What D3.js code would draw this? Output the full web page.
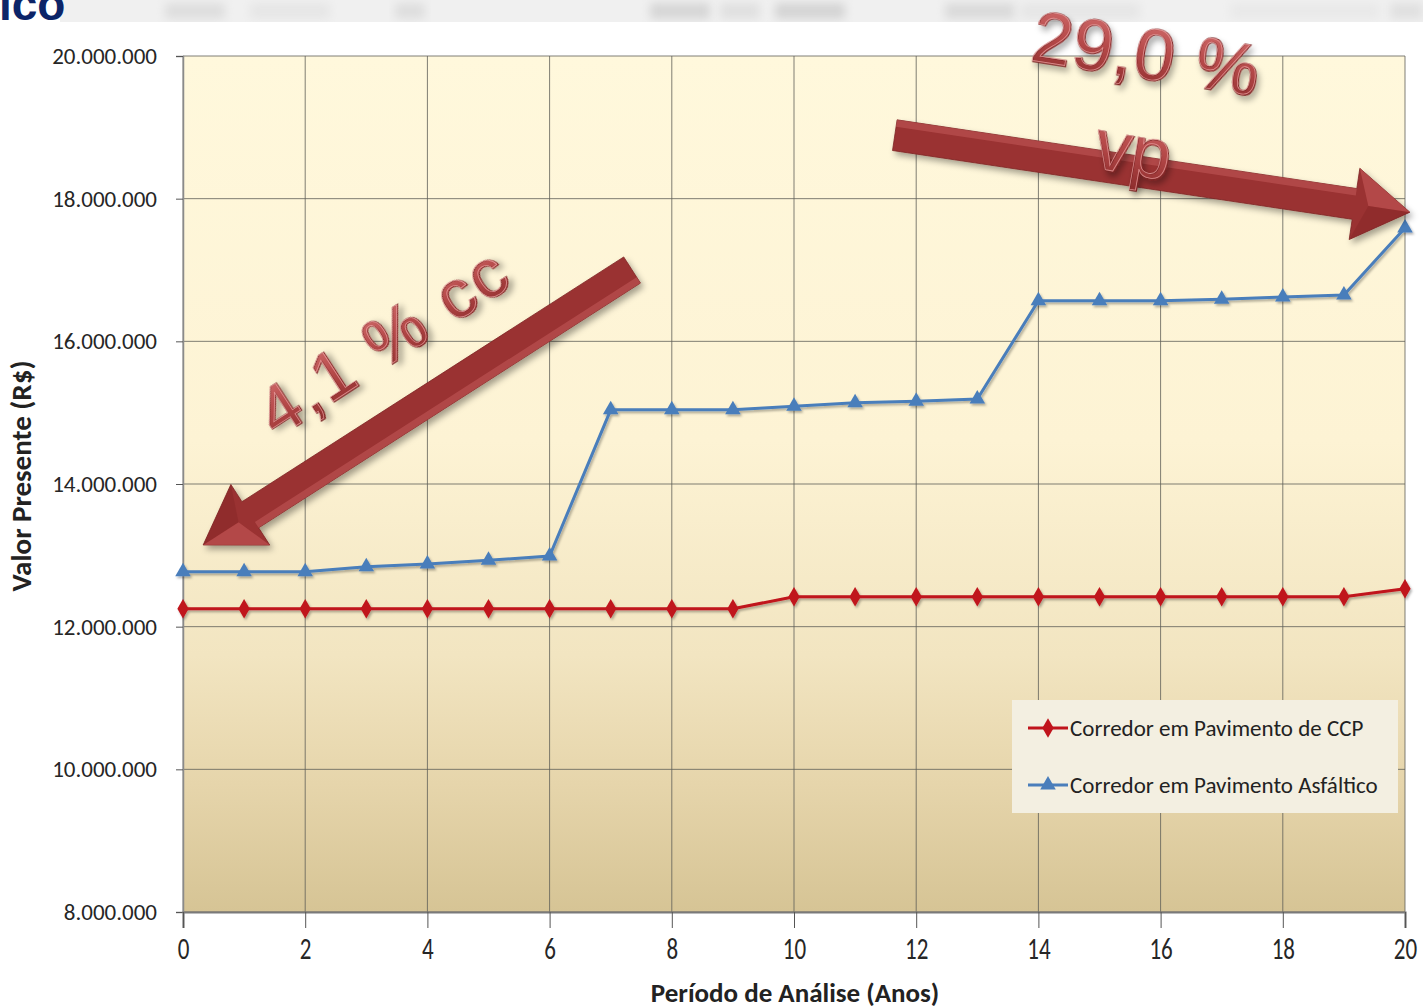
<!DOCTYPE html>
<html>
<head>
<meta charset="utf-8">
<script src="https://cdn.jsdelivr.net/npm/d3@7"></script>
<style>
  html, body { margin: 0; padding: 0; background: #ffffff; }
  svg { display: block; }
</style>
</head>
<body>
<svg id="chart" width="1423" height="1008"></svg>
<script>
// Analysis period (years)
const years = [0, 1, 2, 3, 4, 5, 6, 7, 8, 9, 10, 11, 12, 13, 14, 15, 16, 17, 18, 19, 20];

// Present value (R$) – concrete (CCP) corridor
const ccpValues = [
  12250000, 12250000, 12250000, 12250000, 12250000, 12250000, 12250000,
  12250000, 12250000, 12250000, 12420000, 12420000, 12420000, 12420000,
  12420000, 12420000, 12420000, 12420000, 12420000, 12420000, 12530000
];

// Present value (R$) – asphalt corridor
const asphaltValues = [
  12770000, 12770000, 12770000, 12840000, 12880000, 12930000, 12990000,
  15040000, 15040000, 15040000, 15090000, 15140000, 15160000, 15190000,
  16570000, 16570000, 16570000, 16590000, 16620000, 16650000, 17590000
];

const seriesNames = ["Corredor em Pavimento de CCP", "Corredor em Pavimento Asfáltico"];
const xTicks = [0, 2, 4, 6, 8, 10, 12, 14, 16, 18, 20];
const yTicks = [8000000, 10000000, 12000000, 14000000, 16000000, 18000000, 20000000];
const xTitle = "Período de Análise (Anos)";
const yTitle = "Valor Presente (R$)";

// Callout arrows, anchored in data units: [x, value] tail -> tip
const calloutArrows = [
  { from: [7.35, 17000000], to: [0.33, 13145000] },
  { from: [11.65, 18890000], to: [20.08, 17810000] }
];
const calloutTexts = ["4,1 % cc", "29,0 %", "vp"];

const svg = d3.select("#chart");
const W = 1423, H = 1008;
const plot = { left: 183, right: 1405, top: 56, bottom: 912 };

const x = d3.scaleLinear().domain([0, 20]).range([plot.left, plot.right]);
const y = d3.scaleLinear().domain([8000000, 20000000]).range([plot.bottom, plot.top]);

const ptBR = d3.formatLocale({ decimal: ",", thousands: ".", grouping: [3], currency: ["R$", ""] });
const fmt = ptBR.format(",d");

const uiFont = "Carlito, Calibri, Lato, 'Open Sans', sans-serif";

const defs = svg.append("defs");

// plot background: pale cream fading to tan at the bottom
const bg = defs.append("linearGradient").attr("id", "plotBg")
  .attr("x1", 0).attr("y1", 0).attr("x2", 0).attr("y2", 1);
[[0, "#fff8dc"], [0.45, "#fdf3d4"], [0.7, "#f2e5c1"], [0.85, "#e6d5ab"], [1, "#d6c495"]]
  .forEach(([o, c]) => bg.append("stop").attr("offset", o).attr("stop-color", c));

const wordGrad = defs.append("linearGradient").attr("id", "wordFill")
  .attr("x1", 0).attr("y1", 0).attr("x2", 0).attr("y2", 1);
[[0, "#d47070"], [0.5, "#b44848"], [1, "#8d2c2c"]]
  .forEach(([o, c]) => wordGrad.append("stop").attr("offset", o).attr("stop-color", c));

const shadow = defs.append("filter").attr("id", "shadow")
  .attr("x", "-20%").attr("y", "-20%").attr("width", "140%").attr("height", "140%");
shadow.append("feDropShadow").attr("dx", 3).attr("dy", 4).attr("stdDeviation", 3)
  .attr("flood-color", "#000").attr("flood-opacity", 0.35);

const lineShadow = defs.append("filter").attr("id", "lineShadow")
  .attr("x", "-5%").attr("y", "-20%").attr("width", "110%").attr("height", "140%");
lineShadow.append("feDropShadow").attr("dx", 1.5).attr("dy", 2).attr("stdDeviation", 1.2)
  .attr("flood-color", "#000").attr("flood-opacity", 0.3);

const haze = defs.append("filter").attr("id", "haze")
  .attr("x", "-20%").attr("y", "-80%").attr("width", "140%").attr("height", "260%");
haze.append("feGaussianBlur").attr("stdDeviation", 5);

// ---- header band (slide banner, out of focus) ----
const band = svg.append("g");
band.append("rect").attr("x", 60).attr("y", 0).attr("width", W - 60).attr("height", 22).attr("fill", "#f0f0f0");
const bandBlobs = [
  [165, 60, "#dedede"], [250, 80, "#e6e6e6"], [395, 30, "#dedede"], [650, 60, "#d6d6d6"],
  [720, 40, "#e0e0e0"], [775, 70, "#d4d4d4"], [945, 70, "#dadada"],
  [1020, 120, "#e6e6e6"], [1230, 150, "#e9e9e9"], [1390, 33, "#e0e0e0"]
];
band.selectAll("rect.blob").data(bandBlobs).join("rect").attr("class", "blob")
  .attr("x", d => d[0]).attr("y", 3).attr("width", d => d[1]).attr("height", 16)
  .attr("fill", d => d[2]).attr("filter", "url(#haze)");
band.append("rect").attr("x", 0).attr("y", 22).attr("width", W).attr("height", 20).attr("fill", "#ffffff");
svg.append("text").attr("x", -1).attr("y", 20)
  .attr("font-family", "Arial, 'Liberation Sans', sans-serif").attr("font-weight", "bold")
  .attr("font-size", 46).attr("fill", "#0c2468").text("ico");

// ---- plot area ----
svg.append("rect").attr("x", plot.left).attr("y", plot.top)
  .attr("width", plot.right - plot.left).attr("height", plot.bottom - plot.top)
  .attr("fill", "url(#plotBg)");

// gridlines
svg.append("g").selectAll("line").data(yTicks).join("line")
  .attr("x1", plot.left).attr("x2", plot.right)
  .attr("y1", d => y(d)).attr("y2", d => y(d))
  .attr("stroke", "#5f5f58").attr("stroke-width", 1).attr("opacity", 0.8);
svg.append("g").selectAll("line").data(xTicks).join("line")
  .attr("x1", d => x(d)).attr("x2", d => x(d))
  .attr("y1", plot.top).attr("y2", plot.bottom)
  .attr("stroke", "#5f5f58").attr("stroke-width", 1).attr("opacity", 0.8);

// axes
const yAxis = d3.axisLeft(y).tickValues(yTicks).tickFormat(fmt).tickSize(7).tickPadding(19);
const yG = svg.append("g").attr("transform", `translate(${plot.left},0)`).call(yAxis);
yG.select(".domain").attr("stroke", "#8a8a8a").attr("stroke-width", 1.5);
yG.selectAll(".tick line").attr("stroke", "#555");
yG.selectAll(".tick text").attr("font-family", uiFont).attr("font-size", 23).attr("fill", "#262626");

const xAxis = d3.axisBottom(x).tickValues(xTicks).tickFormat(d3.format("d")).tickSize(16).tickPadding(0);
const xG = svg.append("g").attr("transform", `translate(0,${plot.bottom})`).call(xAxis);
xG.select(".domain").attr("stroke", "#7a7a7a").attr("stroke-width", 2.2);
xG.selectAll(".tick line").attr("stroke", "#555");
// tall, narrow digits under the category axis
xG.selectAll(".tick text")
  .attr("y", null).attr("dy", null)
  .attr("transform", "translate(0,47) scale(1,1.35)")
  .attr("font-family", uiFont).attr("font-size", 23).attr("fill", "#262626");

// axis titles
svg.append("text").attr("x", 795).attr("y", 1002).attr("text-anchor", "middle")
  .attr("font-family", uiFont).attr("font-weight", "bold").attr("font-size", 27)
  .attr("fill", "#222").text(xTitle);
svg.append("text").attr("transform", "translate(31,476) rotate(-90)").attr("text-anchor", "middle")
  .attr("font-family", uiFont).attr("font-weight", "bold").attr("font-size", 29)
  .attr("fill", "#222").text(yTitle);

// ---- series ----
const series = [
  { name: seriesNames[0], values: ccpValues, color: "#c0141c", marker: d3.symbolDiamond, size: 110 },
  { name: seriesNames[1], values: asphaltValues, color: "#4a7ebb", marker: d3.symbolTriangle, size: 105 }
];
const line = d3.line().x((d, i) => x(years[i])).y(d => y(d));

series.forEach(s => {
  const g = svg.append("g").attr("filter", "url(#lineShadow)");
  g.append("path").datum(s.values).attr("d", line)
    .attr("fill", "none").attr("stroke", s.color).attr("stroke-width", 3);
  g.selectAll("path.m").data(s.values).join("path").attr("class", "m")
    .attr("transform", (d, i) => `translate(${x(years[i])},${y(d)})`)
    .attr("d", d3.symbol().type(s.marker).size(s.size))
    .attr("fill", s.color);
});

// ---- legend ----
const lg = svg.append("g").attr("transform", "translate(1012,700)");
lg.append("rect").attr("width", 386).attr("height", 113).attr("fill", "#f3efe1");
series.forEach((s, i) => {
  const cy = 28 + i * 57;
  lg.append("line").attr("x1", 16).attr("x2", 56).attr("y1", cy).attr("y2", cy)
    .attr("stroke", s.color).attr("stroke-width", 3);
  lg.append("path").attr("transform", `translate(36,${cy})`)
    .attr("d", d3.symbol().type(s.marker).size(s.size)).attr("fill", s.color);
  lg.append("text").attr("x", 58).attr("y", cy + 8)
    .attr("font-family", uiFont).attr("font-size", 23).attr("fill", "#222").text(s.name);
});

// ---- callout arrows ----
function arrowGeometry(p0, p1, shaftW, headW, headL) {
  const dx = p1[0] - p0[0], dy = p1[1] - p0[1];
  const len = Math.hypot(dx, dy);
  const ux = dx / len, uy = dy / len;
  const nx = -uy, ny = ux;
  const bx = p1[0] - ux * headL, by = p1[1] - uy * headL;
  const P = (px, py, k) => [px + nx * k, py + ny * k];
  return {
    outline: [P(p0[0], p0[1], -shaftW / 2), P(bx, by, -shaftW / 2), P(bx, by, -headW / 2), p1,
              P(bx, by, headW / 2), P(bx, by, shaftW / 2), P(p0[0], p0[1], shaftW / 2)],
    bevel: [P(p0[0], p0[1], -shaftW / 2), P(bx, by, -shaftW / 2), P(bx, by, -shaftW / 2 + 7), P(p0[0], p0[1], -shaftW / 2 + 7)],
    headA: [P(bx, by, -headW / 2), p1, [bx + ux * 14, by + uy * 14]],
    headB: [P(bx, by, headW / 2), p1, [bx + ux * 14, by + uy * 14]]
  };
}
const toPx = d => [x(d[0]), y(d[1])];
calloutArrows.forEach(a => {
  const geo = arrowGeometry(toPx(a.from), toPx(a.to), 31, 72, 56);
  const g = svg.append("g");
  g.append("polygon").attr("points", geo.outline.join(" "))
    .attr("fill", "#9a3232").attr("stroke", "#7e2525").attr("stroke-width", 0.8)
    .attr("filter", "url(#shadow)");
  // bevel highlights of the arrow body
  g.append("polygon").attr("points", geo.bevel.join(" ")).attr("fill", "#c25a5a").attr("opacity", 0.55);
  g.append("polygon").attr("points", geo.headA.join(" ")).attr("fill", "#c45656").attr("opacity", 0.6);
  g.append("polygon").attr("points", geo.headB.join(" ")).attr("fill", "#7e2323").attr("opacity", 0.35);
});

// ---- callout word-art labels ----
const wordArt = [
  { text: calloutTexts[0], px: 387, py: 346, rot: -33, size: 68, spacing: 3 },
  { text: calloutTexts[1], px: 1146, py: 60, rot: 9, size: 72, spacing: 1 },
  { text: calloutTexts[2], px: 1133, py: 156, rot: 10, size: 72, spacing: 0 }
];
wordArt.forEach(w => {
  const g = svg.append("g").attr("transform", `translate(${w.px},${w.py}) rotate(${w.rot})`);
  const base = t => t.attr("text-anchor", "middle").attr("dominant-baseline", "middle")
    .attr("font-family", "Arial, 'Liberation Sans', sans-serif")
    .attr("font-size", w.size).attr("letter-spacing", w.spacing).text(w.text);
  g.append("text").call(base)
    .attr("fill", "url(#wordFill)").attr("stroke", "#742020").attr("stroke-width", 1.6)
    .attr("paint-order", "stroke").attr("filter", "url(#shadow)");
  // bevel highlight on the letter edges
  g.append("text").call(base).attr("transform", "translate(-0.8,-0.8)")
    .attr("fill", "none").attr("stroke", "#eaa0a0").attr("stroke-width", 0.8).attr("opacity", 0.8);
});
</script>
</body>
</html>
